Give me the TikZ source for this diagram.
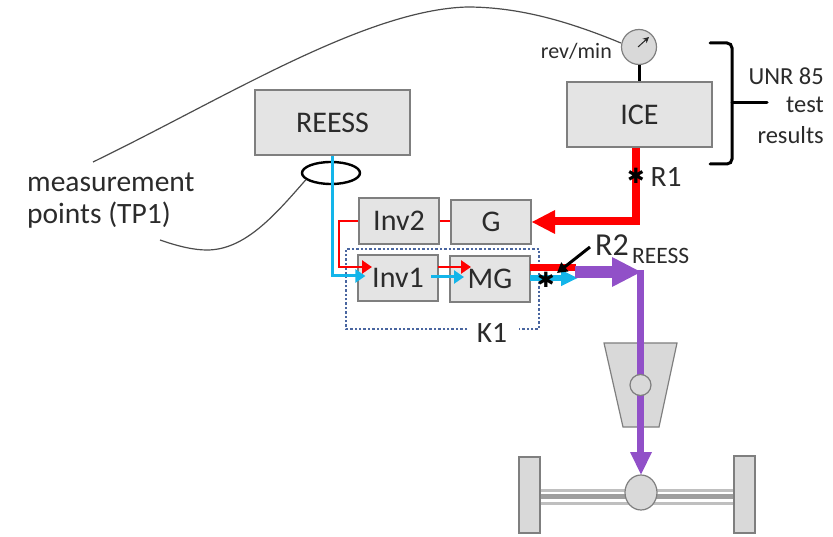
\documentclass[tikz,border=0pt]{standalone}
\usepackage{fontspec}
\setmainfont{Carlito}
\newfontfamily\symfont{DejaVu Sans}
\usetikzlibrary{arrows.meta,calc,shapes.geometric}
\definecolor{boxfill}{HTML}{E4E4E4}
\definecolor{partfill}{HTML}{D9D9D9}
\definecolor{boxline}{HTML}{7F7F7F}
\definecolor{txt}{HTML}{2B2B2B}
\definecolor{pow}{HTML}{FF0000}
\definecolor{elec}{HTML}{13B5EA}
\definecolor{mech}{HTML}{9150C8}
\definecolor{kone}{HTML}{4A66A0}
\tikzset{
  box/.style={draw=boxline,line width=1.2pt,fill=boxfill,minimum width=#1,inner sep=0pt,text=txt,font=\fontsize{30}{34}\selectfont},
  part/.style={draw=boxline,line width=1.2pt,fill=partfill},
  lab/.style={text=txt,inner sep=0pt,font=\fontsize{29.5}{34}\selectfont},
  small/.style={text=txt,inner sep=0pt,font=\fontsize{22}{30}\selectfont},
  side/.style={text=txt,inner sep=0pt,anchor=east,font=\fontsize{24.5}{30}\selectfont},
  thinred/.style={draw=pow,line width=2.5pt,-{Triangle[length=10pt,width=13pt]}},
  thinblue/.style={draw=elec,line width=3pt,-{Triangle[length=10pt,width=13pt]}},
  thinredplain/.style={draw=pow,line width=2.5pt},
  thickred/.style={draw=pow,line width=8pt},
  purple/.style={draw=mech,line width=7pt},
  star/.style={text=black,inner sep=0pt,font=\symfont\fontsize{21}{21}\selectfont},
  wire/.style={draw=black!70,line width=1.2pt},
}
\begin{document}
\begin{tikzpicture}[x=1pt,y=-1pt]
\useasboundingbox (0,0) rectangle (833,537);

% boxes
\node[box=155pt,minimum height=65pt] (reess) at (332.5,122.5) {REESS};
\node[box=145pt,minimum height=65pt] (ice) at (639.5,114.5) {ICE};
\node[box=80pt,minimum height=46pt] (inv2) at (399,221) {Inv2};
\node[box=80pt,minimum height=44pt] (g) at (491,222) {G};
\node[box=80pt,minimum height=46pt] (inv1) at (398,278) {Inv1};
\node[box=80pt,minimum height=46pt] (mg) at (490,279) {MG};

% gauge
\node[circle,part,minimum size=35pt,inner sep=0pt] (gauge) at (639,47) {};
\draw[black,line width=3pt] (gauge.south) -- (gauge.south |- ice.north);
\coordinate (needleA) at (638,47);
\coordinate (needleB) at (649,37);
\draw[draw=black!85,line width=1pt,-{Stealth[length=6pt,width=6pt]}] (needleA) -- (needleB);
\node[small,anchor=east] (rev) at (612,51) {rev/min};

% brace
\coordinate (bt) at (710,43);
\coordinate (bb) at (710,164);
\coordinate (bm) at (767,103);
\draw[black,line width=3pt,line cap=round,rounded corners=5pt]
  (bt) -- (732,43) -- (732,164) -- (bb);
\draw[black,line width=3pt,line cap=round] (732,103) -- (bm);
\node[side] (unr) at (824,76) {UNR 85};
\node[side] (test) at (824,105) {test};
\node[side] (res) at (824,135) {results};

% measurement label and curves
\node[lab,anchor=west] (m1) at (27,182) {measurement};
\node[lab,anchor=west] (m2) at (27,215) {points (TP1)};
\coordinate (c1) at (93,162);
\draw[wire] (c1) .. controls (225,98) and (365,10) .. (467,7)
   .. controls (520,7) and (570,22) .. (gauge.west |- 0,43);
\coordinate (c2) at (160,240);
\node[draw=black,line width=2.4pt,ellipse,minimum width=58pt,minimum height=22pt,inner sep=0pt] (clamp) at (331,173) {};
\draw[wire] (c2) .. controls (180,247) and (195,250) .. (207,250)
   .. controls (245,250) and (275,215) .. (clamp.195);

% K1
\coordinate (k1a) at (467,329);
\coordinate (k1b) at (519,329);
\draw[kone,line width=2.6pt,dash pattern=on 2.4pt off 2pt] (k1a) -- (346,329) -- (346,249) -- (539,249) -- (539,329) -- (k1b);
\node[lab] (k1) at (492,333) {K1};

% electrical feeds
\coordinate (bl) at (332,276);
\draw[thinblue] (reess.south -| bl) -- (bl) -- (inv1.west |- 0,276) -- ++(8,0);
\coordinate (rl) at (339,221);
\draw[thinred] (inv2.west |- rl) -- (rl) -- (339,267) -- (372,267);
\draw[thinredplain] (inv2.east |- rl) -- (g.west |- rl);
\coordinate (i1r) at (438,267);
\coordinate (mgr) at (471,267);
\draw[thinred] (i1r) -- (mgr);
\coordinate (i1b) at (431,277);
\coordinate (mgb) at (464,277);
\draw[thinblue] (i1b) -- (mgb);

% thick red from ICE to G
\coordinate (rc) at (636,221.5);
\draw[thickred] (ice.south -| rc) -- (rc) -- (553,221.5);
\fill[pow] (532,222) -- (555,210) -- (555,234) -- cycle;

% MG output
\coordinate (mo) at (530,267.5);
\draw[draw=pow,line width=7pt] (mo) -- (576,267.5);
\coordinate (mb) at (530,278);
\draw[draw=elec,line width=6pt,-{Triangle[length=17pt,width=15pt]}] (mb) -- (578,278);

% purple path
\coordinate (pc) at (640.5,270);
\coordinate (pa) at (575,272);
\draw[draw=mech,line width=12.5pt] (pa) -- (613,272);
\fill[mech] (612,257) -- (637,270) -- (637,274) -- (612,287) -- cycle;

% gearbox
\coordinate (tr1) at (604,343);
\coordinate (tr2) at (677,343);
\coordinate (tr3) at (659,427);
\coordinate (tr4) at (623,427);
\draw[part] (tr1) -- (tr2) -- (tr3) -- (tr4) -- cycle;

% axle
\node[part,minimum width=21pt,minimum height=76pt,inner sep=0pt] (wl) at (529.5,495) {};
\node[part,minimum width=21pt,minimum height=77pt,inner sep=0pt] (wr) at (744.5,494.5) {};
\draw[draw=black!25,line width=3pt] (wl.east |- 0,490) -- (wr.west |- 0,490);
\draw[draw=black!38,line width=5pt] (wl.east |- 0,496) -- (wr.west |- 0,496);
\draw[draw=black!25,line width=3pt] (wl.east |- 0,503) -- (wr.west |- 0,503);
\node[part,ellipse,minimum width=32pt,minimum height=35pt,inner sep=0pt] (diff) at (641,492.5) {};

% purple down
\coordinate (pe) at (640.5,453);
\draw[purple] (pc) -- (pe);
\fill[mech] (641,474.5) -- (630,452) -- (652,452) -- cycle;
\node[part,circle,minimum size=21pt,inner sep=0pt] (gear) at (640.5,385) {};

% stars and labels
\node[star] (s1) at (636,176) {✱};
\node[lab] (r1) at (666,177) {R1};
\node[star] (s2) at (546,280) {✱};
\node[lab,anchor=west,font=\fontsize{32}{34}\selectfont] (r2) at (595,245) {R2};
\node[small,anchor=west,font=\fontsize{23.5}{30}\selectfont] (sub) at (632,255.5) {REESS};
\coordinate (ra) at (590,247);
\coordinate (rb) at (557,273);
\draw[black,line width=3pt,-{Triangle[length=10pt,width=11pt]}] (ra) -- (rb);
\end{tikzpicture}
\end{document}
